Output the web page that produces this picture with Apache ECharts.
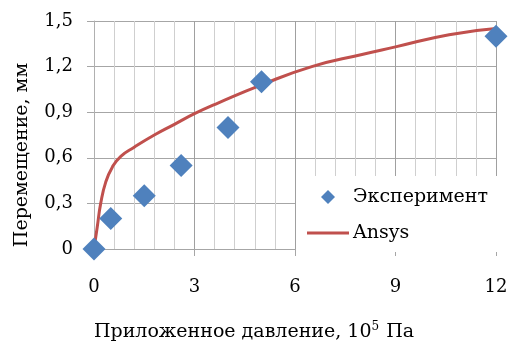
<!DOCTYPE html>
<html>
<head>
<meta charset="utf-8">
<style>
  html, body { margin: 0; padding: 0; background: #fff; }
  #chart { width: 511px; height: 342px; }
</style>
<script src="https://cdn.jsdelivr.net/npm/echarts@6/dist/echarts.min.js"></script>
</head>
<body>
<div id="chart"></div>
<script>
// Experimental displacement (mm) versus applied pressure (10^5 Pa)
const expPressure = [0, 0.5, 1.5, 2.6, 4, 5, 12];
const expDisplacement = [0, 0.2, 0.35, 0.55, 0.8, 1.1, 1.4];

// Ansys simulation curve
const ansysPressure = [0, 0.1, 0.2, 0.35, 0.55, 0.8, 1.2, 1.8, 2.4, 3, 3.7, 5, 6.5, 8, 9, 10.6, 12];
const ansysDisplacement = [0, 0.15, 0.30, 0.44, 0.54, 0.61, 0.67, 0.75, 0.82, 0.89, 0.96, 1.08, 1.20, 1.28, 1.33, 1.41, 1.45];

const seriesNames = ['Эксперимент', 'Ansys'];
const xTickLabels = ['0', '3', '6', '9', '12'];
const yTickLabels = ['0', '0,3', '0,6', '0,9', '1,2', '1,5'];
const xAxisTitle = ['Приложенное давление, 10', '5', ' Па'];
const yAxisTitle = 'Перемещение, мм';

const FONT = 'DejaVu Serif';
const chart = echarts.init(document.getElementById('chart'));

chart.setOption({
  animation: false,
  backgroundColor: '#ffffff',
  grid: { left: 94, right: 15, top: 21, bottom: 93 },
  xAxis: {
    type: 'value',
    min: 0, max: 12, interval: 3,
    axisLine: { show: true, lineStyle: { color: '#a6a6a6', width: 1 } },
    axisTick: { show: true, length: 7, lineStyle: { color: '#a6a6a6' } },
    minorTick: { show: false, splitNumber: 5 },
    splitLine: { show: true, lineStyle: { color: '#a0a0a0', width: 1 } },
    minorSplitLine: { show: true, lineStyle: { color: '#cfcfcf', width: 1 } },
    axisLabel: {
      margin: 29, color: '#000', fontFamily: FONT, fontSize: 18,
      formatter: (v, i) => xTickLabels[i]
    }
  },
  yAxis: {
    type: 'value',
    min: 0, max: 1.5, interval: 0.3,
    axisLine: { show: true, lineStyle: { color: '#b0b0b0', width: 1 } },
    axisTick: { show: true, length: 7, lineStyle: { color: '#a6a6a6' } },
    splitLine: { show: true, lineStyle: { color: '#a6a6a6', width: 1 } },
    axisLabel: {
      margin: 21, color: '#000', fontFamily: FONT, fontSize: 18,
      formatter: (v, i) => yTickLabels[i]
    }
  },
  legend: {
    orient: 'vertical',
    left: 296, top: 176,
    padding: [11, 24, 9, 11],
    backgroundColor: '#ffffff',
    itemWidth: 42, itemHeight: 14, itemGap: 16,
    textStyle: { fontFamily: FONT, fontSize: 19, color: '#000', lineHeight: 20, padding: [0, 0, 0, -1] },
    data: [
      { name: seriesNames[0], icon: 'path://M0,7L7,0L14,7L7,14Z' },
      { name: seriesNames[1], icon: 'path://M0,0L42,0L42,3L0,3Z' }
    ]
  },
  graphic: [
    {
      type: 'text',
      x: 22, y: 155,
      rotation: Math.PI / 2,
      style: {
        text: yAxisTitle,
        font: '19px "DejaVu Serif"',
        fill: '#000',
        align: 'center',
        verticalAlign: 'middle'
      }
    },
    {
      type: 'text',
      x: 254, y: 332,
      style: {
        text: '{a|' + xAxisTitle[0] + '}{s|' + xAxisTitle[1] + '}{a|' + xAxisTitle[2] + '}',
        align: 'center',
        verticalAlign: 'middle',
        rich: {
          a: { fontFamily: FONT, fontSize: 19, fill: '#000', color: '#000' },
          s: { fontFamily: FONT, fontSize: 12, fill: '#000', color: '#000', verticalAlign: 'top', padding: [0, 1, 10, 0] }
        }
      }
    }
  ],
  series: [
    {
      name: seriesNames[1],
      type: 'line',
      data: ansysPressure.map((x, i) => [x, ansysDisplacement[i]]),
      symbol: 'none',
      smooth: 0.5,
      lineStyle: { color: '#C0504D', width: 3 },
      itemStyle: { color: '#C0504D' },
      z: 2
    },
    {
      name: seriesNames[0],
      type: 'scatter',
      data: expPressure.map((x, i) => [x, expDisplacement[i]]),
      symbol: 'diamond',
      symbolSize: 23,
      itemStyle: { color: '#4F81BD', opacity: 1 },
      z: 3
    }
  ]
});
</script>
</body>
</html>
